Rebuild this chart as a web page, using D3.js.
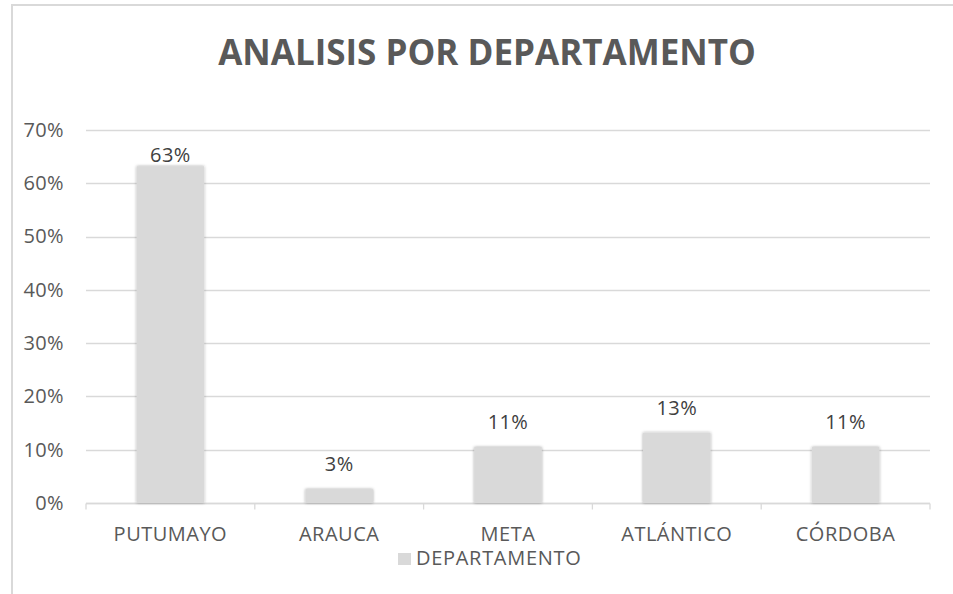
<!DOCTYPE html>
<html>
<head>
<meta charset="utf-8">
<script src="https://cdn.jsdelivr.net/npm/d3@7"></script>
<style>
  body { margin: 0; background: #fff; }
  text { font-family: "Open Sans", "Noto Sans", sans-serif; }
</style>
</head>
<body>
<svg id="chart" width="953" height="594"></svg>
<script>
// data
var departamentos = ['PUTUMAYO', 'ARAUCA', 'META', 'ATLÁNTICO', 'CÓRDOBA'];
var porcentajes = [0.632, 0.026, 0.105, 0.132, 0.105];
var yTicks = [0, 0.1, 0.2, 0.3, 0.4, 0.5, 0.6, 0.7];
var titulo = 'ANALISIS POR DEPARTAMENTO';
var serie = 'DEPARTAMENTO';

var svg = d3.select('#chart');
var gris = '#595959';
var linea = '#d9d9d9';

// chart frame
svg.append('path')
  .attr('d', 'M12,600 V5 H960')
  .attr('fill', 'none').attr('stroke', linea).attr('stroke-width', 2);

var defs = svg.append('defs');
var f = defs.append('filter').attr('id', 'sombra')
  .attr('x', '-20%').attr('y', '-20%').attr('width', '140%').attr('height', '140%');
f.append('feDropShadow').attr('dx', 0).attr('dy', 0).attr('stdDeviation', 1.6)
  .attr('flood-color', '#000').attr('flood-opacity', 0.35);

var x = d3.scaleBand().domain(departamentos).range([86, 930]).paddingInner(0.6).paddingOuter(0.3);
var y = d3.scaleLinear().domain([0, 0.7]).range([503, 130]);

// gridlines
svg.append('g').selectAll('line').data(yTicks).join('line')
  .attr('x1', 86).attr('x2', 930)
  .attr('y1', function(d) { return Math.round(y(d)) + 0.5; })
  .attr('y2', function(d) { return Math.round(y(d)) + 0.5; })
  .attr('stroke', linea).attr('stroke-width', 1.3);

// y labels
var yAxis = svg.append('g').attr('transform', 'translate(64,0)')
  .call(d3.axisLeft(y).tickValues(yTicks).tickFormat(d3.format('.0%')).tickSize(0).tickPadding(0));
yAxis.select('.domain').remove();
yAxis.selectAll('text').attr('fill', gris).attr('font-size', 20)
  .attr('font-family', '"Open Sans", sans-serif').attr('letter-spacing', 0.4);

// x axis with category dividers
var xAxis = svg.append('g').attr('transform', 'translate(0,' + (Math.round(y(0)) + 0.5) + ')');
xAxis.append('line').attr('x1', 86).attr('x2', 930).attr('stroke', linea).attr('stroke-width', 1.3);
var bordes = d3.range(departamentos.length + 1).map(function(i) { return 86 + i * (930 - 86) / departamentos.length; });
xAxis.selectAll('line.tick').data(bordes).join('line').attr('class', 'tick')
  .attr('x1', function(d) { return d; }).attr('x2', function(d) { return d; })
  .attr('y1', 0).attr('y2', 6).attr('stroke', linea).attr('stroke-width', 1.3);
xAxis.selectAll('text').data(departamentos).join('text')
  .attr('x', function(d) { return x(d) + x.bandwidth() / 2; })
  .attr('y', 37)
  .attr('text-anchor', 'middle').attr('fill', gris).attr('font-size', 20).attr('letter-spacing', 0.5)
  .text(function(d) { return d; });

// bars
svg.append('g').attr('filter', 'url(#sombra)').selectAll('rect').data(departamentos).join('rect')
  .attr('x', function(d) { return x(d); })
  .attr('y', function(d, i) { return y(porcentajes[i]); })
  .attr('width', x.bandwidth())
  .attr('height', function(d, i) { return y(0) - y(porcentajes[i]); })
  .attr('fill', '#d9d9d9');

// data labels
svg.append('g').selectAll('text').data(departamentos).join('text')
  .attr('x', function(d) { return x(d) + x.bandwidth() / 2; })
  .attr('y', function(d, i) { return Math.max(y(porcentajes[i]) - 18, y(0.7) + 32); })
  .attr('text-anchor', 'middle').attr('fill', '#404040').attr('font-size', 20).attr('letter-spacing', 0.4)
  .text(function(d, i) { return d3.format('.0%')(porcentajes[i]); });

// title
svg.append('text').attr('x', 487).attr('y', 65).attr('text-anchor', 'middle')
  .attr('fill', gris).attr('font-size', 35).attr('font-weight', 700)
  .text(titulo);

// legend
var leg = svg.append('g').attr('transform', 'translate(398,553)');
leg.append('rect').attr('width', 13).attr('height', 12).attr('fill', '#d9d9d9');
leg.append('text').attr('x', 18).attr('y', 12).attr('fill', gris).attr('font-size', 20).attr('letter-spacing', 0.7)
  .text(serie);
</script>
</body>
</html>
